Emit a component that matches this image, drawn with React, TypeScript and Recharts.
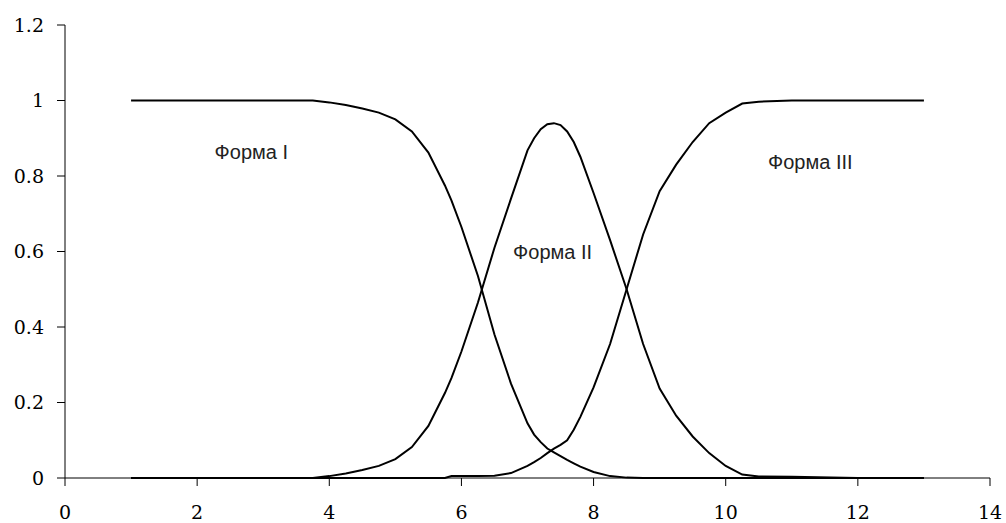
import { LineChart, Line, XAxis, YAxis, ReferenceDot } from 'recharts';

// Palette
const chartColors = {
  line: '#000000',
  axis: '#000000',
  tick: '#000000',
  label: '#222222',
};

// Shared x grid for all three curves
const xValues = [
  1, 2, 3, 3.75, 4, 4.25, 4.5, 4.75, 5, 5.25, 5.5, 5.75, 5.85, 6, 6.25, 6.5, 6.75, 7, 7.1, 7.2,
  7.3, 7.4, 7.5, 7.6, 7.7, 7.8, 8, 8.25, 8.5, 8.75, 9, 9.25, 9.5, 9.75, 10, 10.25, 10.5, 11, 12,
  13,
];

// Форма I
const formOne = [
  1, 1, 1, 1, 0.995, 0.988, 0.979, 0.968, 0.95, 0.918, 0.862, 0.775, 0.735, 0.665, 0.535, 0.38,
  0.25, 0.145, 0.115, 0.095, 0.078, 0.068, 0.058, 0.048, 0.039, 0.03, 0.016, 0.005, 0.001, 0, 0,
  0, 0, 0, 0, 0, 0, 0, 0, 0,
];

// Форма II
const formTwo = [
  0, 0, 0, 0, 0.005, 0.012, 0.021, 0.032, 0.05, 0.082, 0.138, 0.225, 0.265, 0.335, 0.465, 0.61,
  0.74, 0.868, 0.9, 0.924, 0.937, 0.94, 0.935, 0.918, 0.89, 0.851, 0.755, 0.63, 0.5, 0.355,
  0.237, 0.165, 0.11, 0.066, 0.032, 0.009, 0.004, 0.003, 0, 0,
];

// Форма III
const formThree = [
  0, 0, 0, 0, 0, 0, 0, 0, 0, 0, 0, 0, 0.005, 0.005, 0.005, 0.006, 0.013, 0.032, 0.042, 0.053,
  0.066, 0.078, 0.088, 0.1, 0.128, 0.162, 0.24, 0.355, 0.5, 0.645, 0.76, 0.83, 0.89, 0.94, 0.968,
  0.992, 0.997, 1, 1, 1,
];

const xTicks = [0, 2, 4, 6, 8, 10, 12, 14];
const yTicks = [0, 0.2, 0.4, 0.6, 0.8, 1, 1.2];

// Curve captions, placed in data coordinates
const captions = [
  { text: 'Форма I', x: 2.82, y: 0.864 },
  { text: 'Форма II', x: 7.38, y: 0.6 },
  { text: 'Форма III', x: 11.28, y: 0.838 },
];

const data = xValues.map((x, i) => ({
  x,
  f1: formOne[i],
  f2: formTwo[i],
  f3: formThree[i],
}));

const tickStyle = {
  fontSize: 19,
  fontFamily: '"DejaVu Serif", serif',
  fill: chartColors.tick,
};

export default function App() {
  return (
    <div style={{ position: 'absolute', left: 0, top: 0, background: '#fff' }}>
      <LineChart
        width={1006}
        height={523}
        data={data}
        margin={{ top: 25, right: 16, bottom: 5, left: 5 }}
      >
        <XAxis
          dataKey="x"
          type="number"
          domain={[0, 14]}
          ticks={xTicks}
          height={40}
          tick={tickStyle}
          tickSize={8}
          tickMargin={20}
          axisLine={{ stroke: chartColors.axis }}
          tickLine={{ stroke: chartColors.axis }}
        />
        <YAxis
          type="number"
          domain={[0, 1.2]}
          ticks={yTicks}
          width={60}
          tick={tickStyle}
          tickSize={8}
          tickMargin={13}
          axisLine={{ stroke: chartColors.axis }}
          tickLine={{ stroke: chartColors.axis }}
        />
        <Line dataKey="f1" type="linear" stroke={chartColors.line} strokeWidth={2} dot={false} isAnimationActive={false} />
        <Line dataKey="f2" type="linear" stroke={chartColors.line} strokeWidth={2} dot={false} isAnimationActive={false} />
        <Line dataKey="f3" type="linear" stroke={chartColors.line} strokeWidth={2} dot={false} isAnimationActive={false} />
        {captions.map((c) => (
          <ReferenceDot
            key={c.text}
            x={c.x}
            y={c.y}
            r={0}
            fill="none"
            stroke="none"
            label={{
              value: c.text,
              position: 'center',
              fontSize: 20,
              fontFamily: '"Liberation Sans", Arial, sans-serif',
              fill: chartColors.label,
            }}
          />
        ))}
      </LineChart>
    </div>
  );
}
